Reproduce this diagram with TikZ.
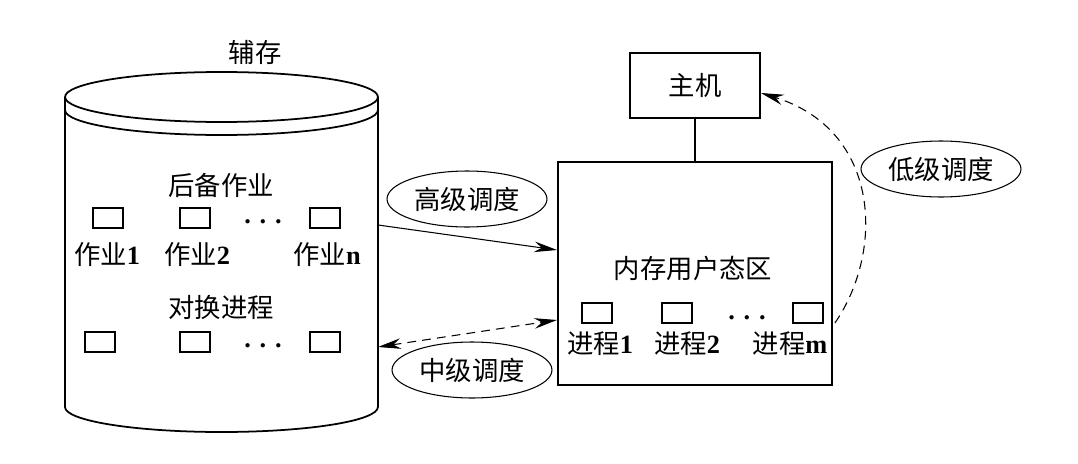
\documentclass[tikz,border=0pt]{standalone}
\usepackage{fontspec}
\setmainfont{Liberation Serif}
\newfontfamily\cjk{Noto Sans CJK SC}
\usepackage{tikz}
\usetikzlibrary{shapes.geometric,arrows.meta}
\newcommand{\lat}[1]{{\rmfamily\bfseries #1}}

\tikzset{
  txt/.style={inner sep=1pt, font=\cjk\fontsize{15}{18}\selectfont},
  smallbox/.style={draw, line width=1pt, minimum width=0.6cm, minimum height=0.4cm, inner sep=0pt},
  bigbox/.style={draw, line width=1.1pt, inner sep=0pt},
  level/.style={ellipse, draw, line width=0.6pt, minimum width=3.2cm, minimum height=1.12cm, inner sep=0pt, font=\cjk\fontsize{15}{18}\selectfont},
  tip/.style={-{Stealth[length=13pt, width=6pt]}},
  bothtips/.style={{Stealth[length=13pt, width=6pt]}-{Stealth[length=13pt, width=6pt]}},
  longdash/.style={dash pattern=on 5pt off 3.5pt}
}

\begin{document}
\begin{tikzpicture}[x=0.02cm, y=-0.02cm]
\useasboundingbox (0,0) rectangle (1078,463);

% Disk (cylinder)
\draw[line width=1pt] (221.5,97) ellipse [x radius=3.13cm, y radius=0.5cm];
\draw[line width=1pt] (65,110) arc[start angle=180, end angle=360, x radius=3.13cm, y radius=0.5cm];
\draw[line width=1pt] (65,97) -- (65,407) arc[start angle=180, end angle=360, x radius=3.13cm, y radius=0.5cm] -- (378,97);
\node[txt] (disk) at (255,52) {辅存};
\coordinate (diskhi) at (378,225);
\coordinate (disklo) at (378,347);

% Backup jobs
\node[txt] (backup) at (221,185) {后备作业};
\node[smallbox] (j1) at (108,218) {};
\node[smallbox] (j2) at (195,218) {};
\node[smallbox] (jn) at (325,218) {};
\node[txt] (jdots) at (263,222) {\lat{. . .}};
\node[txt] (jl1) at (107,255) {作业\lat{1}};
\node[txt] (jl2) at (197,255) {作业\lat{2}};
\node[txt] (jln) at (327,255) {作业\lat{n}};

% Swapped processes
\node[txt] (swap) at (221,307) {对换进程};
\node[smallbox] (s1) at (100,342) {};
\node[smallbox] (s2) at (195,342) {};
\node[smallbox] (sn) at (325,342) {};
\node[txt] (sdots) at (263,346) {\lat{. . .}};

% Memory and host
\node[bigbox, minimum width=5.48cm, minimum height=4.46cm] (mem) at (695,273.5) {};
\node[txt] (memlabel) at (693,268) {内存用户态区};
\node[bigbox, minimum width=2.6cm, minimum height=1.3cm, txt] (host) at (695,85.5) {主机};
\draw[line width=0.6pt] (host) -- (mem);

\node[smallbox] (p1) at (597,313) {};
\node[smallbox] (p2) at (677,313) {};
\node[smallbox] (pm) at (808,313) {};
\node[txt] (pdots) at (747,318) {\lat{. . .}};
\node[txt] (pl1) at (600,344) {进程\lat{1}};
\node[txt] (pl2) at (687,344) {进程\lat{2}};
\node[txt] (plm) at (790,344) {进程\lat{m}};

% Scheduling levels
\node[level] (high) at (467,199) {高级调度};
\node[level] (mid) at (472,370) {中级调度};
\node[level] (low) at (941,169) {低级调度};

\draw[tip, line width=0.6pt] (diskhi) -- ([yshift=0.47cm]mem.west);
\draw[bothtips, longdash, line width=0.6pt] (disklo) -- ([yshift=-0.93cm]mem.west);
\draw[tip, longdash, line width=0.6pt] ([xshift=0.04cm, yshift=-0.99cm]mem.east) .. controls (885,250) and (880,130) .. ([yshift=-0.15cm]host.east);
\end{tikzpicture}
\end{document}
